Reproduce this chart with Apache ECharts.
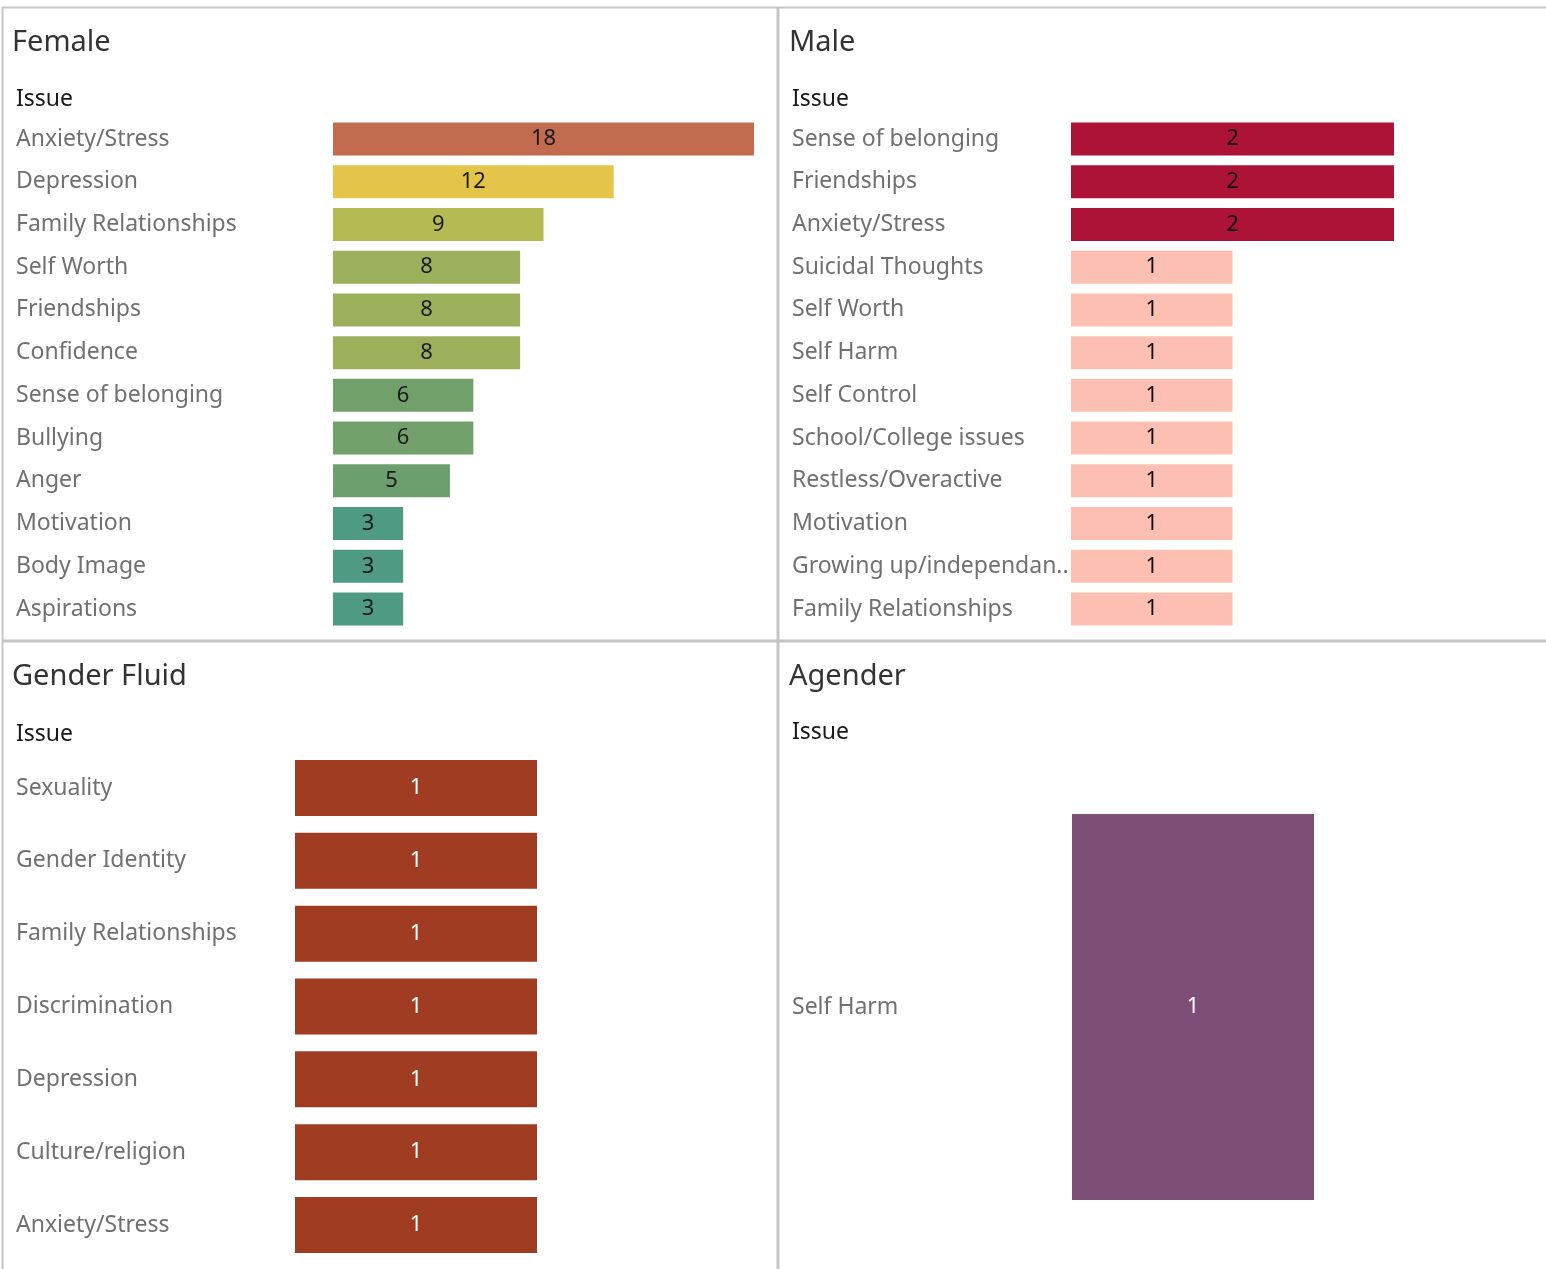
<!DOCTYPE html>
<html>
<head>
<meta charset="utf-8">
<script src="https://cdn.jsdelivr.net/npm/echarts@6/dist/echarts.min.js"></script>
<style>
html,body{margin:0;padding:0;background:#fff;}
#c{width:1546px;height:1269px;}
</style>
</head>
<body>
<div id="c"></div>
<script>
// ---- Data ----
var femaleIssues = ['Anxiety/Stress','Depression','Family Relationships','Self Worth','Friendships','Confidence','Sense of belonging','Bullying','Anger','Motivation','Body Image','Aspirations'];
var femaleCounts = [18,12,9,8,8,8,6,6,5,3,3,3];

var maleIssues = ['Sense of belonging','Friendships','Anxiety/Stress','Suicidal Thoughts','Self Worth','Self Harm','Self Control','School/College issues','Restless/Overactive','Motivation','Growing up/independan..','Family Relationships'];
var maleCounts = [2,2,2,1,1,1,1,1,1,1,1,1];

var fluidIssues = ['Sexuality','Gender Identity','Family Relationships','Discrimination','Depression','Culture/religion','Anxiety/Stress'];
var fluidCounts = [1,1,1,1,1,1,1];

var agenderIssues = ['Self Harm'];
var agenderCounts = [1];

var panelTitles = ['Female','Male','Gender Fluid','Agender'];
var axisHeader = 'Issue';

// ---- Styles ----
var FONT = '"Noto Sans", "Open Sans", sans-serif';
var femaleColorByValue = {18:'#c26b4f',12:'#e4c54a',9:'#b4bb53',8:'#9cb05c',6:'#71a06a',5:'#6c9f6d',3:'#4f9a83'};
var maleColorByValue = {2:'#ad1237',1:'#fdbfb2'};

var chart = echarts.init(document.getElementById('c'), null, {renderer:'canvas'});

function grid(left, right, top, bottom){ return {left:left, right:right, top:top, bottom:bottom, containLabel:false}; }
function xAx(idx, max){ return {type:'value', gridIndex:idx, min:0, max:max, show:false}; }
function yAx(idx, cats, margin){
  return {type:'category', gridIndex:idx, data:cats, inverse:true,
    axisLine:{show:false}, axisTick:{show:false}, splitLine:{show:false},
    axisLabel:{align:'left', margin:margin, color:'#707070', fontSize:23, fontFamily:FONT}};
}
function bar(idx, data, barW, colorFn, labelColor){
  return {type:'bar', xAxisIndex:idx, yAxisIndex:idx, data:data, barWidth:barW, silent:true,
    itemStyle:{color:colorFn},
    label:{show:true, position:'inside', fontSize:22, fontFamily:FONT,
      formatter:'{c}', color: labelColor}};
}
function ttl(text, left, top, size, color){
  return {text:text, left:left, top:top, textStyle:{fontSize:size, fontWeight:'normal', color:color, fontFamily:FONT}};
}

var H = 1269;
var option = {
  backgroundColor:'#fff',
  animation:false,
  title:[
    ttl(panelTitles[0], 7, 23, 29, '#333'),
    ttl(panelTitles[1], 784, 23, 29, '#333'),
    ttl(panelTitles[2], 7, 657, 29, '#333'),
    ttl(panelTitles[3], 784, 657, 29, '#333'),
    ttl(axisHeader, 11, 83, 23, '#1a1a1a'),
    ttl(axisHeader, 787, 83, 23, '#1a1a1a'),
    ttl(axisHeader, 11, 718, 23, '#1a1a1a'),
    ttl(axisHeader, 787, 716, 23, '#1a1a1a')
  ],
  grid:[
    grid(333, 1546-754, 117.6, H-630.4),
    grid(1071, 1546-1394, 117.6, H-630.4),
    grid(295, 1546-537, 751.6, H-1261.4),
    grid(1072, 1546-1314, 745, 0)
  ],
  xAxis:[xAx(0,18), xAx(1,2), xAx(2,1), xAx(3,1)],
  yAxis:[yAx(0,femaleIssues,317), yAx(1,maleIssues,279), yAx(2,fluidIssues,279), yAx(3,agenderIssues,280)],
  series:[
    bar(0, femaleCounts, 33, function(p){return femaleColorByValue[p.value];}, '#1a1a1a'),
    bar(1, maleCounts, 33, function(p){return maleColorByValue[p.value];}, '#111'),
    bar(2, fluidCounts, 56, '#a03c22', '#ffffff'),
    bar(3, agenderCounts, 386, '#7c4e78', '#ffffff')
  ],
  graphic:[
    {type:'line', shape:{x1:2, y1:7.5, x2:1546, y2:7.5}, style:{stroke:'#c8c8c8', lineWidth:2}, silent:true},
    {type:'line', shape:{x1:2.5, y1:7, x2:2.5, y2:1269}, style:{stroke:'#c8c8c8', lineWidth:2}, silent:true},
    {type:'line', shape:{x1:778, y1:7, x2:778, y2:1269}, style:{stroke:'#c4c4c4', lineWidth:3}, silent:true},
    {type:'line', shape:{x1:2, y1:641, x2:1546, y2:641}, style:{stroke:'#c4c4c4', lineWidth:3}, silent:true}
  ]
};
chart.setOption(option);
</script>
</body>
</html>
